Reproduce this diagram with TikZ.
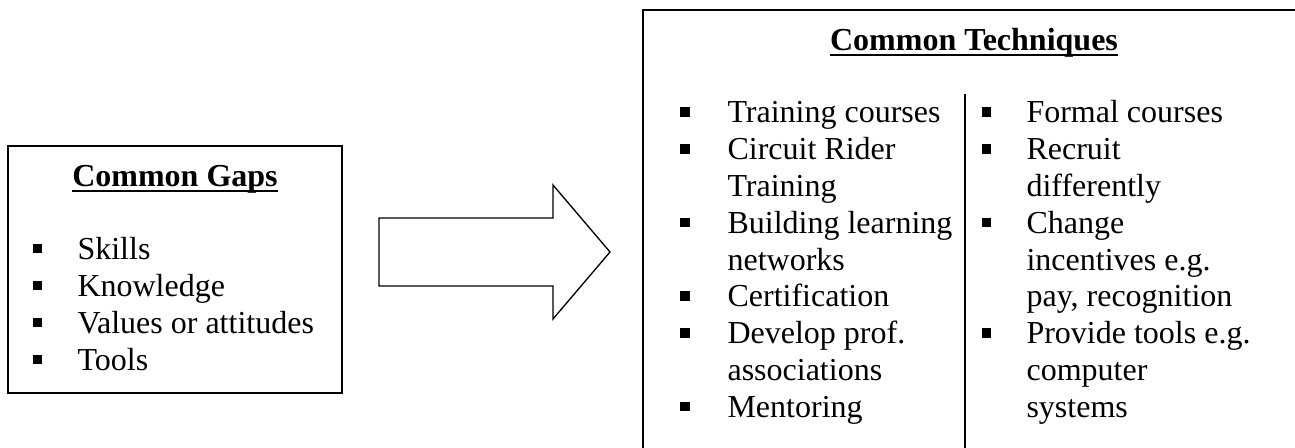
\documentclass[tikz,border=0pt]{standalone}
\usepackage{fontspec}
\setmainfont{Liberation Serif}
\newcommand\sqbul[1]{\llap{\rule[2.3pt]{3.5pt}{3.5pt}\hspace{#1}}}
\begin{document}
\begin{tikzpicture}[x=0.375pt,y=-0.375pt,
  frame/.style={draw, line width=0.75pt},
  txt/.style={inner sep=0pt, anchor=base west, align=left, font=\fontsize{12}{13.8}\selectfont},
  ttl/.style={inner sep=0pt, anchor=base, font=\fontsize{12}{13.8}\selectfont\bfseries},
  uline/.style={line width=0.75pt},
  bigarrow/.style={draw, line width=0.5pt}]
\useasboundingbox (0,0) rectangle (1295,447);
\clip (0,0) rectangle (1295,447);
% left box
\draw[frame] (8,146) rectangle (342,393);
\node[ttl] (gt) at (175,186) {Common Gaps};
\draw[uline] ([yshift=-1.9pt]gt.base west) -- ([yshift=-1.9pt]gt.base east);
% multi-line node: its base anchor is the baseline of the last line
\node[txt, font=\fontsize{12}{13.875}\selectfont] (gl) at (77,370)
  {\sqbul{13.2pt}Skills\\
   \sqbul{13.2pt}Knowledge\\
   \sqbul{13.2pt}Values or attitudes\\
   \sqbul{13.2pt}Tools};
% block arrow
\draw[bigarrow] (379,218) -- (553,218) -- (553,185) -- (610,252) -- (553,319) -- (553,286) -- (379,286) -- cycle;
% right box
\draw[frame] (643,10) rectangle (1320,470);
\node[ttl] (tt) at (974,50) {Common Techniques};
\draw[uline] ([yshift=-1.9pt]tt.base west) -- ([yshift=-1.9pt]tt.base east);
\draw[frame] (965,94) -- (965,470);
\node[txt] (tl) at (727,417.3)
  {\sqbul{14.2pt}Training courses\\
   \sqbul{14.2pt}Circuit Rider\\
   Training\\
   \sqbul{14.2pt}Building learning\\
   networks\\
   \sqbul{14.2pt}Certification\\
   \sqbul{14.2pt}Develop prof.\\
   associations\\
   \sqbul{14.2pt}Mentoring};
\node[txt] (tr) at (1026,417.3)
  {\sqbul{13.2pt}Formal courses\\
   \sqbul{13.2pt}Recruit\\
   differently\\
   \sqbul{13.2pt}Change\\
   incentives e.g.\\
   pay, recognition\\
   \sqbul{13.2pt}Provide tools e.g.\\
   computer\\
   systems};
\end{tikzpicture}
\end{document}
